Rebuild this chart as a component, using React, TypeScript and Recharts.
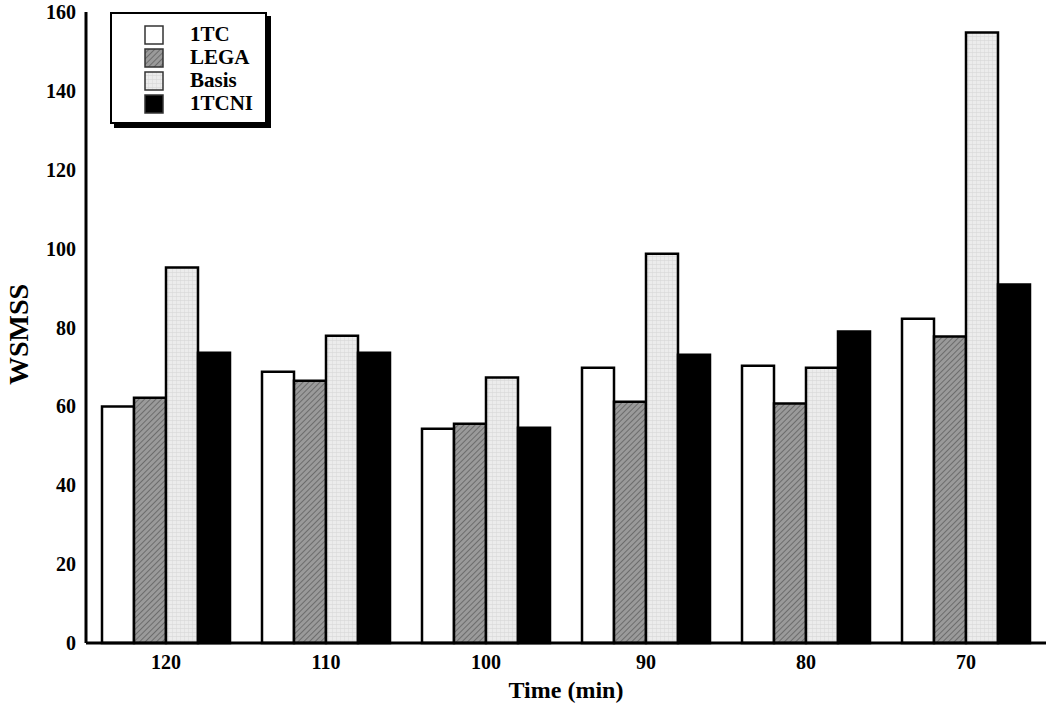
import React from 'react';
import { BarChart, Bar, XAxis, YAxis, Legend } from 'recharts';

// values
const times = ['120', '110', '100', '90', '80', '70'];
const oneTC = [60, 68.8, 54.3, 69.8, 70.3, 82.2];
const lega = [62.2, 66.5, 55.6, 61.2, 60.7, 77.7];
const basis = [95.2, 77.9, 67.3, 98.7, 69.8, 154.8];
const oneTCNI = [73.6, 73.6, 54.6, 73.1, 79, 90.9];
const yTicks = [0, 20, 40, 60, 80, 100, 120, 140, 160];

const seriesNames = ['1TC', 'LEGA', 'Basis', '1TCNI'];
const seriesFills = ['#ffffff', 'url(#legaHatch)', 'url(#basisGrid)', '#000000'];

const data = times.map((t, i) => ({
  time: t,
  oneTC: oneTC[i],
  lega: lega[i],
  basis: basis[i],
  oneTCNI: oneTCNI[i],
}));

const font = 'Liberation Serif, Times New Roman, serif';
const tickStyle = { fontFamily: font, fontWeight: 'bold', fontSize: 20, fill: '#000' };

const LegendBox = () => (
  <div
    style={{
      width: 153,
      height: 99,
      border: '2px solid #000',
      boxShadow: '4px 4px 0 #000',
      background: '#fff',
      boxSizing: 'content-box',
      paddingTop: 9,
    }}
  >
    {seriesNames.map((name, i) => (
      <div key={name} style={{ display: 'flex', alignItems: 'center', height: 23 }}>
        <svg width={20} height={20} style={{ marginLeft: 32 }}>
          <rect x={1} y={1} width={18} height={18} fill={seriesFills[i]} stroke="#333" strokeWidth={1.5} />
        </svg>
        <span
          style={{
            marginLeft: 26,
            fontFamily: font,
            fontWeight: 'bold',
            fontSize: 21,
            lineHeight: '23px',
            color: '#000',
          }}
        >
          {name}
        </span>
      </div>
    ))}
  </div>
);

const YLabel = (props: any) => {
  const vb = props.viewBox || { x: 0, y: 12, width: 86, height: 631 };
  const cx = vb.x + 18;
  const cy = vb.y + vb.height / 2 + 7;
  return (
    <text
      x={cx}
      y={cy}
      transform={`rotate(-90 ${cx} ${cy})`}
      textAnchor="middle"
      dominantBaseline="central"
      style={{ fontFamily: font, fontWeight: 'bold', fontSize: 28, fill: '#000' }}
    >
      WSMSS
    </text>
  );
};

export default function App() {
  return (
    <div style={{ position: 'absolute', left: 0, top: 0, background: '#fff' }}>
      <BarChart
        width={1050}
        height={704}
        data={data}
        margin={{ top: 12, right: 4, bottom: 0, left: 0 }}
        barCategoryGap="10%"
        barGap={0}
      >
        <defs>
          <pattern id="legaHatch" width={4} height={4} patternUnits="userSpaceOnUse" patternTransform="rotate(45)">
            <rect width={4} height={4} fill="#9a9a9a" />
            <line x1={0} y1={0} x2={0} y2={4} stroke="#606060" strokeWidth={1.6} />
          </pattern>
          <pattern id="basisGrid" width={4} height={4} patternUnits="userSpaceOnUse">
            <rect width={4} height={4} fill="#ececec" />
            <line x1={0} y1={0} x2={4} y2={0} stroke="#d2d2d2" strokeWidth={1} />
            <line x1={0} y1={0} x2={0} y2={4} stroke="#d8d8d8" strokeWidth={1} />
          </pattern>
        </defs>
        <XAxis
          dataKey="time"
          height={61}
          tickLine={false}
          tickSize={0}
          tickMargin={12}
          axisLine={{ stroke: '#000', strokeWidth: 3 }}
          tick={tickStyle}
          label={{
            value: 'Time (min)',
            position: 'insideBottom',
            offset: 6,
            style: { fontFamily: font, fontWeight: 'bold', fontSize: 24, fill: '#000' },
          }}
        />
        <YAxis
          width={86}
          domain={[0, 160]}
          ticks={yTicks}
          interval={0}
          tickLine={false}
          tickSize={0}
          tickMargin={10}
          axisLine={{ stroke: '#000', strokeWidth: 3 }}
          tick={tickStyle}
          label={<YLabel />}
        />
        <Legend
          layout="vertical"
          align="center"
          verticalAlign="middle"
          content={() => <LegendBox />}
          wrapperStyle={{ top: 12, left: 110, width: 'auto', height: 'auto' }}
        />
        <Bar dataKey="oneTC" name="1TC" fill={seriesFills[0]} stroke="#000" strokeWidth={2.5} isAnimationActive={false} />
        <Bar dataKey="lega" name="LEGA" fill={seriesFills[1]} stroke="#000" strokeWidth={2.5} isAnimationActive={false} />
        <Bar dataKey="basis" name="Basis" fill={seriesFills[2]} stroke="#000" strokeWidth={2.5} isAnimationActive={false} />
        <Bar dataKey="oneTCNI" name="1TCNI" fill={seriesFills[3]} stroke="#000" strokeWidth={2.5} isAnimationActive={false} />
      </BarChart>
    </div>
  );
}
